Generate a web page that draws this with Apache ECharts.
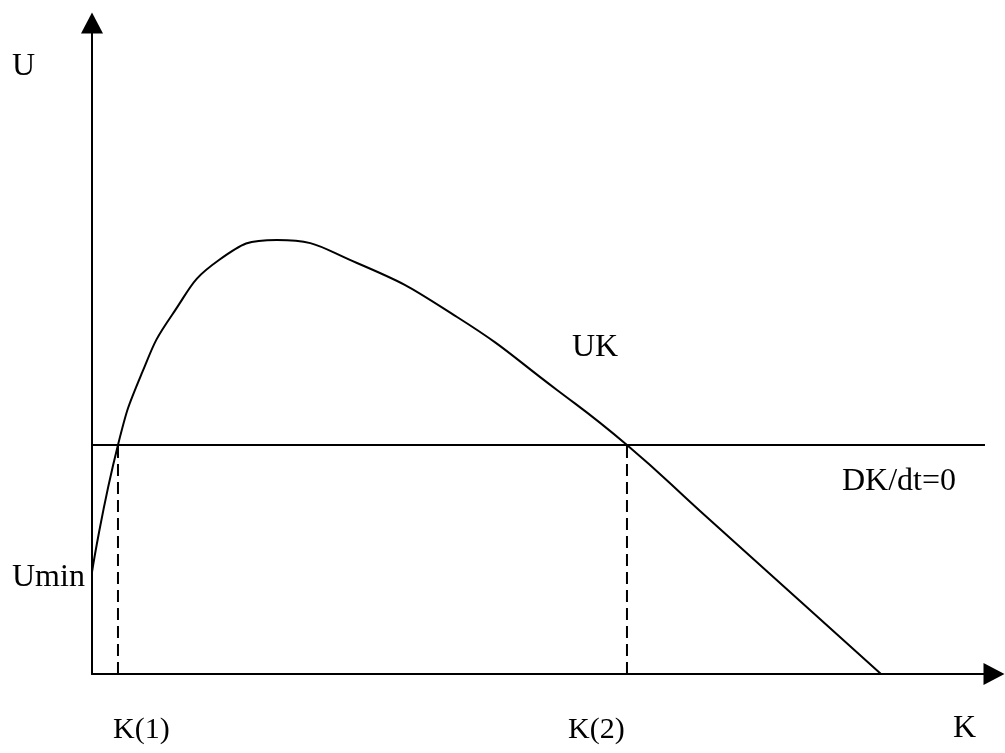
<!DOCTYPE html>
<html>
<head>
<meta charset="utf-8">
<script src="https://cdn.jsdelivr.net/npm/echarts@6/dist/echarts.min.js"></script>
<style>
  html, body { margin: 0; padding: 0; background: #fff; }
  #main { width: 1005px; height: 753px; }
</style>
</head>
<body>
<div id="main"></div>
<script>
// curve UK (K on x, U on y)
var ukK = [0, 2.88, 5.54, 8.87, 14.08, 20.51, 29.38, 40.47, 51.55, 59.31, 67.41, 78.49, 87.47];
var ukU = [15.67, 35.18, 46.24, 55.15, 63.59, 66.67, 63.13, 54.84, 43.63, 35.18, 25.04, 11.21, 0];

// DK/dt=0 level and the two crossing points
var dkLevel = 35.18;
var dkEnd = 99;
var kPoints = [2.88, 59.31];

var serif = "'Liberation Serif', 'Times New Roman', serif";

var chart = echarts.init(document.getElementById('main'));

var axisCommon = {
  type: 'value',
  min: 0,
  max: 100,
  axisLine: {
    show: true,
    onZero: false,
    symbol: ['none', 'triangle'],
    symbolSize: [22, 21],
    lineStyle: { color: '#000', width: 2 }
  },
  axisTick: { show: false },
  axisLabel: { show: false },
  splitLine: { show: false }
};

function pairs(xs, ys) {
  return xs.map(function (x, i) { return [x, ys[i]]; });
}

var series = [
  {
    name: 'UK',
    type: 'line',
    data: pairs(ukK, ukU),
    smooth: 0.5,
    symbol: 'none',
    lineStyle: { color: '#000', width: 2 },
    z: 3
  },
  {
    name: 'DK/dt=0',
    type: 'line',
    data: [[0, dkLevel], [dkEnd, dkLevel]],
    symbol: 'none',
    lineStyle: { color: '#000', width: 2 }
  }
];

kPoints.forEach(function (k) {
  series.push({
    type: 'line',
    data: [[k, 0], [k, dkLevel]],
    symbol: 'none',
    lineStyle: { color: '#000', width: 2, type: [12, 6] }
  });
});

// text, left, middle, size
var labels = [
  ['U', 12, 67, 32],
  ['Umin', 12, 578, 32],
  ['UK', 572, 348, 32],
  ['DK/dt=0', 842, 482, 32],
  ['K(1)', 113, 730, 30],
  ['K(2)', 568, 730, 30],
  ['K', 953, 729, 32]
];

var option = {
  animation: false,
  grid: { left: 92, right: 11, top: 23, bottom: 79 },
  xAxis: axisCommon,
  yAxis: echarts.util.clone(axisCommon),
  series: series,
  graphic: labels.map(function (l) {
    return {
      type: 'text',
      left: l[1],
      top: l[2] - l[3] / 2,
      style: {
        text: l[0],
        fill: '#000',
        fontSize: l[3],
        fontFamily: serif
      }
    };
  })
};

chart.setOption(option);
</script>
</body>
</html>
